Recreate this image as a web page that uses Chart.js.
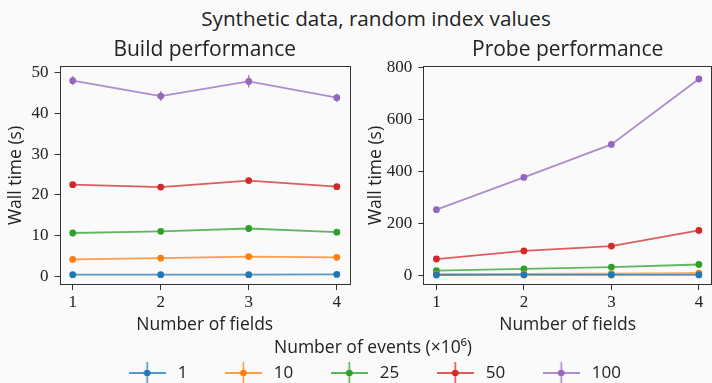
<!DOCTYPE html>
<html>
<head>
<meta charset="utf-8">
<script src="https://cdn.jsdelivr.net/npm/chart.js@4.4.1/dist/chart.umd.min.js"></script>
<style>
  html, body { margin: 0; padding: 0; background: #fafafa; width: 712px; height: 383px; overflow: hidden; position: relative; }
  canvas { position: absolute; }
  #suptitle { position: absolute; left: 20px; width: 712px; top: 5px; text-align: center;
              font: 20.7px 'Open Sans', sans-serif; line-height: 26px; color: #222; }
</style>
</head>
<body>
<div id="suptitle">Synthetic data, random index values</div>
<canvas id="build" width="356" height="306" style="left:0;top:30px"></canvas>
<canvas id="probe" width="360" height="306" style="left:356px;top:30px"></canvas>
<canvas id="legend" width="712" height="180" style="left:17px;top:335px"></canvas>
<script>
// data
const fields = [1, 2, 3, 4];
const eventCounts = ['1', '10', '25', '50', '100'];

const buildTimes = [
  [0.33, 0.35, 0.35, 0.4],
  [4.1, 4.4, 4.8, 4.6],
  [10.6, 11.0, 11.7, 10.8],
  [22.5, 21.9, 23.5, 22.0],
  [48.1, 44.3, 47.9, 43.9]
];
const buildErrors = [
  [0.05, 0.05, 0.05, 0.05],
  [0.1, 0.1, 0.15, 0.1],
  [0.2, 0.2, 0.25, 0.2],
  [0.3, 0.3, 0.35, 0.3],
  [1.1, 1.2, 1.5, 1.0]
];
const probeTimes = [
  [0.5, 0.6, 0.6, 0.8],
  [4, 5, 6, 8],
  [17, 24, 31, 41],
  [62, 93, 112, 172],
  [252, 376, 503, 755]
];
const probeErrors = [
  [0.1, 0.1, 0.1, 0.1],
  [0.3, 0.3, 0.4, 0.4],
  [0.8, 1, 1, 1.2],
  [2, 2, 3, 3],
  [4, 5, 6, 7]
];
const buildTicks = [0, 10, 20, 30, 40, 50];
const probeTicks = [0, 200, 400, 600, 800];

const colors = ['#1f77b4', '#ff7f0e', '#2ca02c', '#d62728', '#9467bd'];
const sans = "'Open Sans', sans-serif";
const serif = "'Liberation Serif', serif";
const ink = '#222';
const frame = '#333';

function fade(hex, a) {
  const n = parseInt(hex.slice(1), 16);
  return `rgba(${n >> 16},${(n >> 8) & 255},${n & 255},${a})`;
}

// vertical error bars + box frame round the plot area
const extras = {
  id: 'extras',
  afterDatasetsDraw(chart) {
    const { ctx, chartArea: a, scales: { x, y } } = chart;
    chart.data.datasets.forEach(ds => {
      if (!ds.errors) return;
      ctx.save();
      ctx.strokeStyle = fade(ds.pointBackgroundColor, 0.85);
      ctx.lineWidth = 1.5;
      ds.data.forEach((p, j) => {
        const px = x.getPixelForValue(p.x);
        ctx.beginPath();
        ctx.moveTo(px, y.getPixelForValue(p.y - ds.errors[j]));
        ctx.lineTo(px, y.getPixelForValue(p.y + ds.errors[j]));
        ctx.stroke();
      });
      ctx.restore();
    });
    ctx.save();
    ctx.strokeStyle = frame;
    ctx.lineWidth = 1;
    ctx.strokeRect(Math.round(a.left) + 0.5, Math.round(a.top) + 0.5,
                   Math.round(a.right - a.left) - 1, Math.round(a.bottom - a.top) - 1);
    ctx.restore();
  }
};

function makePanel(id, title, times, errors, yTicks, yMin, yMax, yWidth, padRight, yTitlePad) {
  return new Chart(document.getElementById(id), {
    type: 'line',
    data: {
      datasets: times.map((vals, i) => ({
        label: eventCounts[i],
        data: vals.map((v, j) => ({ x: fields[j], y: v })),
        errors: errors[i],
        borderColor: fade(colors[i], 0.75),
        borderWidth: 1.8,
        pointBackgroundColor: colors[i],
        pointBorderWidth: 0,
        pointRadius: 3.4,
        tension: 0
      }))
    },
    options: {
      responsive: false,
      animation: false,
      layout: { padding: { left: 0, right: padRight, top: 0, bottom: 0 } },
      plugins: {
        legend: { display: false },
        tooltip: { enabled: false },
        title: {
          display: true, text: title, color: ink, fullSize: false,
          font: { family: sans, size: 21, weight: 'normal' },
          padding: { top: 7.4, bottom: 3.4 }
        }
      },
      scales: {
        x: {
          type: 'linear', min: 0.85, max: 4.15,
          afterBuildTicks: s => { s.ticks = fields.map(v => ({ value: v })); },
          afterFit: s => { s.height = 51; },
          ticks: { color: ink, font: { family: serif, size: 17 }, padding: 2, callback: v => String(v) },
          grid: { drawOnChartArea: false, tickLength: 5, color: frame },
          border: { display: false },
          title: { display: true, text: 'Number of fields', color: ink,
                   font: { family: sans, size: 17.5 }, padding: { top: 0, bottom: 0 } }
        },
        y: {
          min: yMin, max: yMax,
          afterBuildTicks: s => { s.ticks = yTicks.map(v => ({ value: v })); },
          afterFit: s => { s.width = yWidth; },
          ticks: { color: ink, font: { family: serif, size: 17 }, padding: 6, callback: v => String(v) },
          grid: { drawOnChartArea: false, tickLength: 5, color: frame },
          border: { display: false },
          title: { display: true, text: 'Wall time (s)', color: ink,
                   font: { family: sans, size: 17.5 }, padding: { top: yTitlePad, bottom: 0 } }
        }
      }
    },
    plugins: [extras]
  });
}

makePanel('build', 'Build performance', buildTimes, buildErrors, buildTicks, -2.2, 51.7, 59.5, 6, 5.5);
makePanel('probe', 'Probe performance', probeTimes, probeErrors, probeTicks, -38, 805, 67.3, 1.5, 9.5);

// legend icons: line, dot and a vertical error bar
function makeIcon(color) {
  const c = document.createElement('canvas');
  c.width = 37; c.height = 22;
  const g = c.getContext('2d');
  g.strokeStyle = fade(color, 0.75); g.lineWidth = 1.8;
  g.beginPath(); g.moveTo(0, 11); g.lineTo(37, 11); g.stroke();
  g.strokeStyle = fade(color, 0.85); g.lineWidth = 1.5;
  g.beginPath(); g.moveTo(18.5, 0); g.lineTo(18.5, 22); g.stroke();
  g.fillStyle = color;
  g.beginPath(); g.arc(18.5, 11, 3.3, 0, Math.PI * 2); g.fill();
  return c;
}

new Chart(document.getElementById('legend'), {
  type: 'line',
  data: {
    datasets: eventCounts.map((c, i) => ({
      label: c, data: [], borderColor: colors[i], pointStyle: makeIcon(colors[i])
    }))
  },
  options: {
    responsive: false,
    animation: false,
    layout: { padding: 0 },
    scales: { x: { display: false }, y: { display: false } },
    plugins: {
      tooltip: { enabled: false },
      legend: {
        display: true, position: 'top',
        labels: { usePointStyle: true, pointStyleWidth: 44, padding: 34, color: ink,
                  font: { family: sans, size: 17 } },
        title: { display: true, text: 'Number of events (\u00d710\u2076)', color: ink,
                 font: { family: sans, size: 17.5 }, padding: { top: 4.25, bottom: -29.75 } }
      }
    }
  }
});
</script>
</body>
</html>
